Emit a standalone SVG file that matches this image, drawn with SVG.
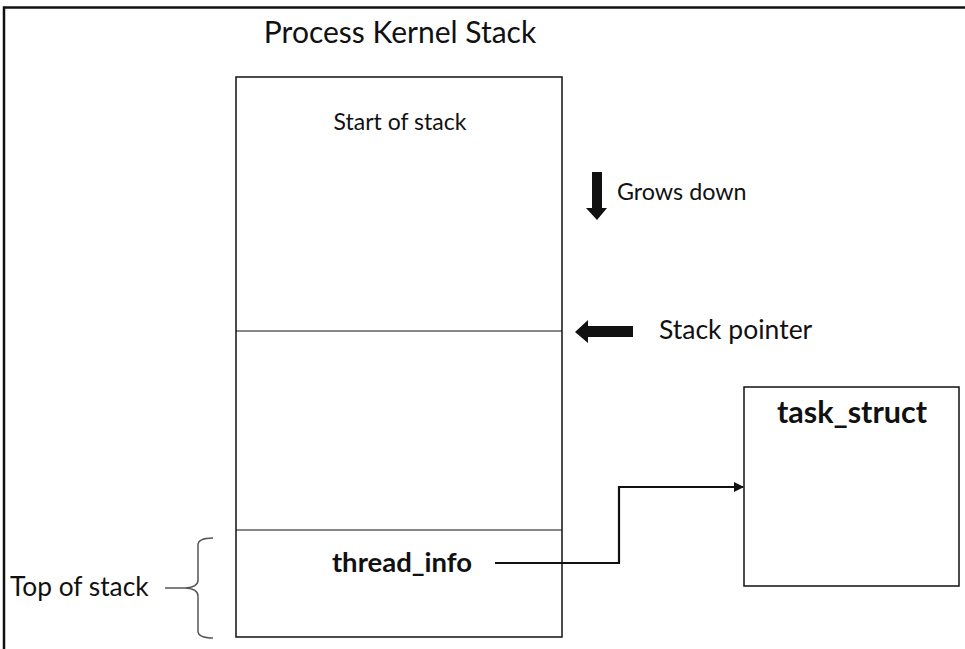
<svg xmlns="http://www.w3.org/2000/svg" width="965" height="649" viewBox="0 0 965 649">
<style>
.t{font-family:Lato,"Open Sans","Liberation Sans",sans-serif;fill:#111}
.b{font-weight:bold}
.box{fill:#fff;stroke:#111;stroke-width:1.5}
.ln{fill:none;stroke:#111;stroke-width:2.2}
</style>
<defs>
<marker id="ah" markerWidth="10" markerHeight="10" refX="9" refY="5" orient="auto" markerUnits="userSpaceOnUse">
<path d="M0,0 L10,5 L0,10 Z" fill="#111"/>
</marker>
</defs>
<rect width="965" height="649" fill="#fff"/>
<g id="frame">
<path d="M4,649 L4,7.5 L965,7.5" fill="none" stroke="#111" stroke-width="2.5"/>
</g>
<g id="title"><text class="t" x="400" y="43" font-size="30" text-anchor="middle">Process Kernel Stack</text></g>
<g id="stack">
<rect class="box" x="236" y="77" width="326" height="560"/>
<line x1="236" y1="331" x2="562" y2="331" stroke="#111" stroke-width="1"/>
<line x1="236" y1="530" x2="562" y2="530" stroke="#111" stroke-width="1"/>
<text class="t" x="400" y="130" font-size="23" text-anchor="middle">Start of stack</text>
</g>
<g id="thread_info"><text class="t b" x="402" y="572" font-size="27.5" text-anchor="middle">thread_info</text></g>
<g id="task_struct">
<rect class="box" x="744" y="387" width="215" height="199"/>
<text class="t b" x="852" y="423" font-size="30.5" text-anchor="middle">task_struct</text>
</g>
<g id="grows">
<path d="M592,172 L602,172 L602,208 L607,208 L597,220 L586,208 L592,208 Z" fill="#111"/>
<text class="t" x="617" y="200" font-size="23.3">Grows down</text>
</g>
<g id="sp">
<path d="M575,332 L588,320 L588,326 L633,326 L633,337 L588,337 L588,343 Z" fill="#111"/>
<text class="t" x="659" y="339" font-size="26.5">Stack pointer</text>
</g>
<g id="top">
<text class="t" x="10" y="596" font-size="26.3">Top of stack</text>
<path d="M213,538 Q198,538 198,545 L198,580 Q198,587 186,588 Q198,589 198,596 L198,631 Q198,638 213,638" fill="none" stroke="#555" stroke-width="1.5"/>
<path d="M165,588 L188,588" fill="none" stroke="#555" stroke-width="1.5"/>
</g>
<g id="connectors">
<path class="ln" d="M495,563 L619,563 L619,487 L743,487" marker-end="url(#ah)"/>
</g>
</svg>
